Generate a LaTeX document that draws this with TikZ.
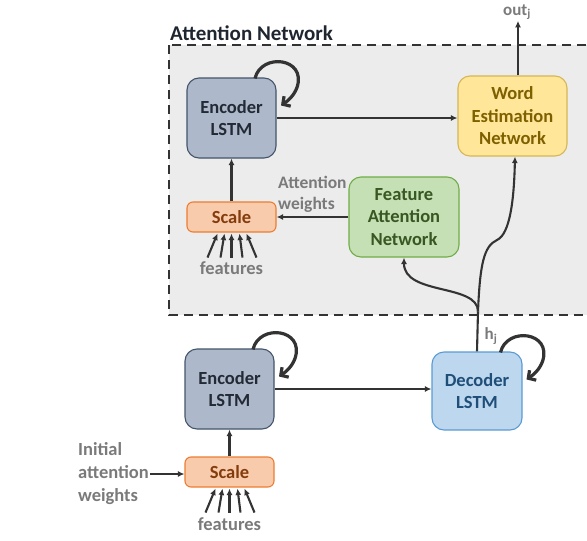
\documentclass[tikz,border=0pt]{standalone}
\usepackage{fontspec}
\setmainfont{Carlito}
\usetikzlibrary{arrows.meta,calc}

\definecolor{encfill}{HTML}{ADB9CA}
\definecolor{encdraw}{HTML}{44546A}
\definecolor{enctext}{HTML}{222A35}
\definecolor{decfill}{HTML}{BDD7EE}
\definecolor{decdraw}{HTML}{5B9BD5}
\definecolor{dectext}{HTML}{1F4E79}
\definecolor{wordfill}{HTML}{FFE699}
\definecolor{worddraw}{HTML}{D6B656}
\definecolor{wordtext}{HTML}{7F6000}
\definecolor{fanfill}{HTML}{C5E0B4}
\definecolor{fandraw}{HTML}{70AD47}
\definecolor{fantext}{HTML}{385723}
\definecolor{scalefill}{HTML}{F8CBAD}
\definecolor{scaledraw}{HTML}{ED7D31}
\definecolor{scaletext}{HTML}{843C0C}
\definecolor{labelgray}{HTML}{7A7A7A}
\definecolor{linegray}{HTML}{333333}
\definecolor{panelfill}{HTML}{ECECEC}

\newcommand\selfloop[1]{%
  \draw[loopline] ($(#1.north)+(23.5,1)$)
    .. controls ($(#1.north)+(29.5,-25)$) and ($(#1.north)+(75.5,-20)$) .. ($(#1.north)+(65.5,10)$)
    .. controls ($(#1.north)+(62.5,18)$) and ($(#1.north)+(57,23)$) .. ($(#1.north)+(49.5,28)$);}

\begin{document}
\begin{tikzpicture}[x=1pt,y=-1pt,
  box/.style={rounded corners=12pt, line width=1.1pt, minimum width=89pt,
    minimum height=80pt, inner sep=0pt, align=center,
    font=\bfseries\fontsize{18.5}{22.5}\selectfont},
  scalebox/.style={box, rounded corners=6pt, minimum height=30pt,
    fill=scalefill, draw=scaledraw, text=scaletext},
  arr/.style={draw=linegray, line width=2.1pt,
    -{Latex[length=6.5pt,width=6pt]}},
  loopline/.style={draw=linegray, line width=3.2pt,
    -{Straight Barb[length=5.5pt,width=12pt]}},
  lbl/.style={text=labelgray, inner sep=1pt, align=left,
    font=\bfseries\fontsize{17.5}{21}\selectfont},
  dashbox/.style={draw=linegray, fill=panelfill, line width=2.2pt,
    dash pattern=on 9pt off 6pt}]

\useasboundingbox (0,0) rectangle (587,541);

% attention network panel
\draw[dashbox] (169,45) rectangle (610,315);
\node[anchor=base west, inner sep=0pt, text=enctext!90!black,
  font=\bfseries\fontsize{21}{24}\selectfont] (title) at (170,40) {Attention Network};

% blocks inside the panel
\node[box, fill=encfill, draw=encdraw, text=enctext] (encT) at (231.5,118) {Encoder\\LSTM};
\node[box, fill=wordfill, draw=worddraw, text=wordtext, minimum width=109pt]
  (word) at (512.5,116) {Word\\Estimation\\Network};
\node[scalebox] (scaleT) at (231.5,217) {Scale};
\node[box, fill=fanfill, draw=fandraw, text=fantext, minimum width=110pt]
  (fan) at (404,217) {Feature\\Attention\\Network};
\node[lbl, anchor=west] (attw) at (277,194) {Attention\\weights};
\node[lbl, font=\bfseries\fontsize{18.5}{21}\selectfont] (featT) at ($(scaleT.south)+(0,36)$) {features};

% blocks below the panel
\node[box, fill=encfill, draw=encdraw, text=enctext] (encB) at (229.5,389) {Encoder\\LSTM};
\node[box, fill=decfill, draw=decdraw, text=dectext, minimum width=90pt,
  minimum height=78pt] (dec) at (477,391) {Decoder\\LSTM};
\node[scalebox] (scaleB) at (229.5,472) {Scale};
\node[lbl, font=\bfseries\fontsize{18.5}{21}\selectfont] (featB) at ($(scaleB.south)+(0,37)$) {features};
\node[lbl, anchor=west, font=\bfseries\fontsize{18.5}{23}\selectfont]
  (init) at (77,474) {Initial\\attention\\weights};

% outputs and hidden state labels
\node[lbl, font=\bfseries\fontsize{17}{18}\selectfont] (outj) at (517,12) {out\textsubscript{j}};
\node[lbl, font=\bfseries\fontsize{17}{18}\selectfont] (hj) at (491,336) {h\textsubscript{j}};

% straight connectors
\draw[arr] (encT.east) -- (encT.east -| word.west);
\draw[arr] (scaleT.north) -- (encT.south);
\draw[arr] (fan.west |- scaleT.east) -- (scaleT.east);
\coordinate (wtop) at ([xshift=5.5pt]word.north);
\draw[arr] (wtop) -- (wtop |- outj.south);
\draw[arr] (encB.east) -- (encB.east -| dec.west);
\draw[arr] (scaleB.north) -- (encB.south);
\draw[arr] (init.east) -- (init.east -| scaleB.west);

% feature fans
\foreach \b/\t in {-24/-14,-11/-7,0/0,11/8,25/15}{
  \draw[arr] ($(scaleT.south)+(\b,25)$) -- ($(scaleT.south)+(\t,1)$);
  \draw[arr] ($(scaleB.south)+(\b,25)$) -- ($(scaleB.south)+(\t,1)$);
}

% hidden state fanning out to the attention panel
\coordinate (hsplit) at ($(dec.north)+(1,-40)$);
\draw[draw=linegray, line width=2.1pt] (dec.north) -- (hsplit);
\draw[arr] (hsplit) .. controls ($(hsplit)+(0,-28)$) and ($(fan.south)+(0,38)$) .. (fan.south);
\draw[arr] (hsplit) .. controls ($(hsplit)+(2,-48)$) and (484,246) .. (497,240)
  .. controls (510,234) and (514,200) .. ([xshift=2.5pt]word.south);

% recurrent self loops
\selfloop{encT}
\selfloop{encB}
\selfloop{dec}

\end{tikzpicture}
\end{document}
